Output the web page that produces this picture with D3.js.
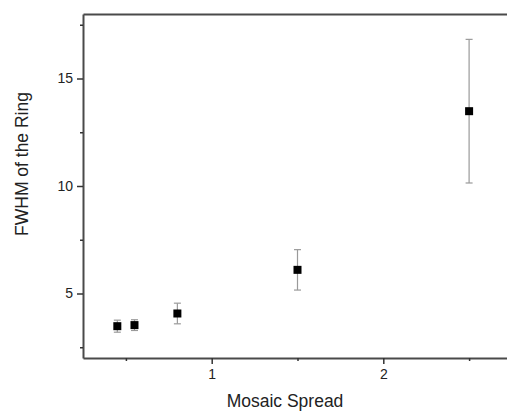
<!DOCTYPE html>
<html>
<head>
<meta charset="utf-8">
<script src="https://cdn.jsdelivr.net/npm/d3@7"></script>
<style>
  body { margin: 0; background: #fff; }
  svg { display: block; font-family: "Liberation Sans", Arial, sans-serif; }
</style>
</head>
<body>
<script>
// data
var spread = [0.45, 0.55, 0.8, 1.5, 2.5];
var fwhm = [3.48, 3.53, 4.07, 6.10, 13.48];
var err = [0.28, 0.25, 0.48, 0.94, 3.34];
var xTicks = [1, 2];
var xMinor = [0.5, 1.5, 2.5];
var yTicks = [5, 10, 15];
var yMinor = [2.5, 7.5, 12.5, 17.5];

var w = 507, h = 412;
var mLeft = 83, mTop = 14, mRight = 512, mBottom = 358;

var svg = d3.select("body").append("svg")
  .attr("width", w)
  .attr("height", h);

var x = d3.scaleLinear().domain([0.25, 2.75]).range([mLeft, mRight]);
var y = d3.scaleLinear().domain([2, 18]).range([mBottom, mTop]);

var axisCol = "#4a4a4a";

// x axis
var gx = svg.append("g").attr("transform", "translate(0," + mBottom + ")");
gx.call(d3.axisBottom(x).tickValues(xTicks).tickFormat(d3.format("d")).tickSize(6).tickSizeOuter(0).tickPadding(5));
gx.append("g").call(d3.axisBottom(x).tickValues(xMinor).tickFormat("").tickSize(3))
  .select(".domain").remove();

// top frame as an axis without ticks
var gt = svg.append("g").attr("transform", "translate(0," + mTop + ")");
gt.call(d3.axisTop(x).tickValues([]).tickSizeOuter(0));

// y axis
var gy = svg.append("g").attr("transform", "translate(" + mLeft + ",0)");
gy.call(d3.axisLeft(y).tickValues(yTicks).tickFormat(d3.format("d")).tickSize(6).tickSizeOuter(0).tickPadding(4));
gy.append("g").call(d3.axisLeft(y).tickValues(yMinor).tickFormat("").tickSize(3))
  .select(".domain").remove();

svg.selectAll(".domain").attr("stroke", axisCol).attr("stroke-width", 2);
svg.selectAll(".tick line").attr("stroke", "#333").attr("stroke-width", 1.5);
gx.attr("font-size", 14).attr("font-family", "'Liberation Sans', Arial, sans-serif");
gy.attr("font-size", 14).attr("font-family", "'Liberation Sans', Arial, sans-serif");
svg.selectAll(".tick text").attr("fill", "#222");

// error bars
var pts = spread.map(function(s, i) { return { x: s, y: fwhm[i], e: err[i] }; });
var eb = svg.append("g").attr("stroke", "#9a9a9a").attr("stroke-width", 1.2);
eb.selectAll("line.v").data(pts).enter().append("line")
  .attr("x1", function(d) { return x(d.x); }).attr("x2", function(d) { return x(d.x); })
  .attr("y1", function(d) { return y(d.y - d.e); }).attr("y2", function(d) { return y(d.y + d.e); });
[-1, 1].forEach(function(sgn) {
  eb.selectAll(null).data(pts).enter().append("line")
    .attr("x1", function(d) { return x(d.x) - 3.5; }).attr("x2", function(d) { return x(d.x) + 3.5; })
    .attr("y1", function(d) { return y(d.y + sgn * d.e); }).attr("y2", function(d) { return y(d.y + sgn * d.e); });
});

// markers
svg.append("g").selectAll("rect").data(pts).enter().append("rect")
  .attr("x", function(d) { return x(d.x) - 4; })
  .attr("y", function(d) { return y(d.y) - 4; })
  .attr("width", 8).attr("height", 8)
  .attr("fill", "#000");

// titles
svg.append("text")
  .attr("x", 285).attr("y", 407)
  .attr("text-anchor", "middle")
  .style("font-size", "17.5px").attr("fill", "#222")
  .text("Mosaic Spread");

svg.append("text")
  .attr("transform", "translate(28,164) rotate(-90)")
  .attr("text-anchor", "middle")
  .style("font-size", "17.5px").attr("fill", "#222")
  .text("FWHM of the Ring");
</script>
</body>
</html>
